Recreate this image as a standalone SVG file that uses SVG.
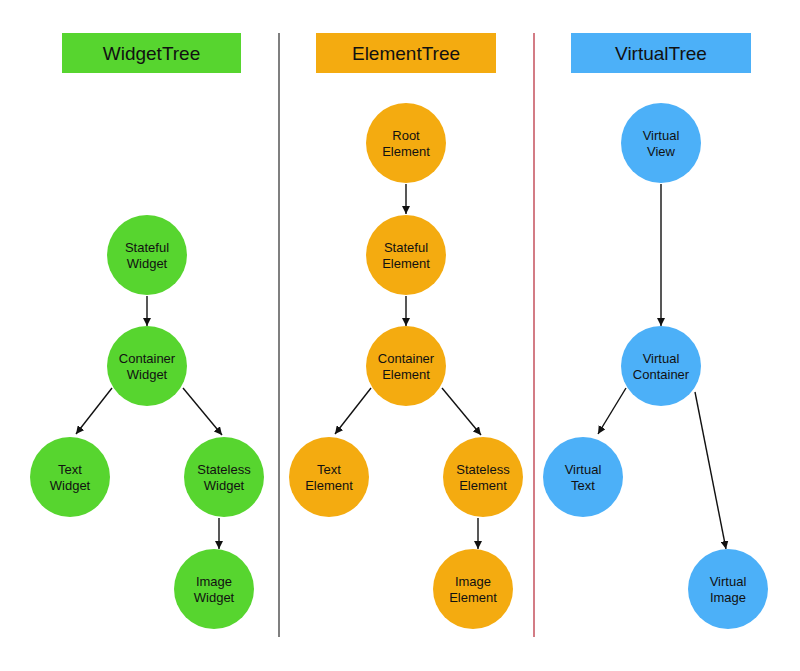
<svg xmlns="http://www.w3.org/2000/svg" width="800" height="671" viewBox="0 0 800 671">
<style>
.hdr{font-family:"Liberation Sans",Arial,sans-serif;font-size:19px;fill:#111;text-anchor:middle}
.lbl{font-family:"Liberation Sans",Arial,sans-serif;font-size:13px;fill:#111;text-anchor:middle}
.g{fill:#57d52f}
.o{fill:#f4ab10}
.b{fill:#4cb0f8}
.edge{stroke:#111;stroke-width:1.4;fill:none;marker-end:url(#ah)}
</style>
<defs>
<marker id="ah" viewBox="0 0 10 10" refX="10" refY="5" markerWidth="8" markerHeight="8" markerUnits="userSpaceOnUse" orient="auto">
<path d="M0,0 L10,5 L0,10 z" fill="#111"/>
</marker>
</defs>
<rect width="800" height="671" fill="#ffffff"/>
<g id="separators">
<line x1="279" y1="33" x2="279" y2="637" stroke="#555" stroke-width="1.5"/>
<line x1="534" y1="33" x2="534" y2="637" stroke="#c4505c" stroke-width="1.5"/>
</g>
<g id="hdr-widget"><rect x="62" y="33" width="179" height="40" class="g"/><text class="hdr" x="151.5" y="60">WidgetTree</text></g>
<g id="hdr-element"><rect x="316" y="33" width="180" height="40" class="o"/><text class="hdr" x="406" y="60">ElementTree</text></g>
<g id="hdr-virtual"><rect x="571" y="33" width="180" height="40" class="b"/><text class="hdr" x="661" y="60">VirtualTree</text></g>
<g id="connectors">
<line class="edge" x1="147" y1="296" x2="147" y2="326"/>
<line class="edge" x1="112" y1="388" x2="76" y2="434"/>
<line class="edge" x1="183" y1="388" x2="222" y2="435"/>
<line class="edge" x1="219" y1="518" x2="219" y2="549"/>
<line class="edge" x1="406" y1="184" x2="406" y2="214"/>
<line class="edge" x1="406" y1="296" x2="406" y2="326"/>
<line class="edge" x1="371" y1="388" x2="335" y2="434"/>
<line class="edge" x1="442" y1="388" x2="481" y2="435"/>
<line class="edge" x1="478" y1="518" x2="478" y2="549"/>
<line class="edge" x1="661" y1="184" x2="661" y2="326"/>
<line class="edge" x1="626" y1="388" x2="598" y2="434"/>
<line class="edge" x1="695" y1="392" x2="726" y2="549"/>
</g>
<g id="stateful-widget"><circle cx="147" cy="255" r="40" class="g"/><text class="lbl" x="147" y="252">Stateful</text><text class="lbl" x="147" y="268">Widget</text></g>
<g id="container-widget"><circle cx="147" cy="366" r="40" class="g"/><text class="lbl" x="147" y="363">Container</text><text class="lbl" x="147" y="379">Widget</text></g>
<g id="text-widget"><circle cx="70" cy="477" r="40" class="g"/><text class="lbl" x="70" y="474">Text</text><text class="lbl" x="70" y="490">Widget</text></g>
<g id="stateless-widget"><circle cx="224" cy="477" r="40" class="g"/><text class="lbl" x="224" y="474">Stateless</text><text class="lbl" x="224" y="490">Widget</text></g>
<g id="image-widget"><circle cx="214" cy="589" r="40" class="g"/><text class="lbl" x="214" y="586">Image</text><text class="lbl" x="214" y="602">Widget</text></g>
<g id="root-element"><circle cx="406" cy="143" r="40" class="o"/><text class="lbl" x="406" y="140">Root</text><text class="lbl" x="406" y="156">Element</text></g>
<g id="stateful-element"><circle cx="406" cy="255" r="40" class="o"/><text class="lbl" x="406" y="252">Stateful</text><text class="lbl" x="406" y="268">Element</text></g>
<g id="container-element"><circle cx="406" cy="366" r="40" class="o"/><text class="lbl" x="406" y="363">Container</text><text class="lbl" x="406" y="379">Element</text></g>
<g id="text-element"><circle cx="329" cy="477" r="40" class="o"/><text class="lbl" x="329" y="474">Text</text><text class="lbl" x="329" y="490">Element</text></g>
<g id="stateless-element"><circle cx="483" cy="477" r="40" class="o"/><text class="lbl" x="483" y="474">Stateless</text><text class="lbl" x="483" y="490">Element</text></g>
<g id="image-element"><circle cx="473" cy="589" r="40" class="o"/><text class="lbl" x="473" y="586">Image</text><text class="lbl" x="473" y="602">Element</text></g>
<g id="virtual-view"><circle cx="661" cy="143" r="40" class="b"/><text class="lbl" x="661" y="140">Virtual</text><text class="lbl" x="661" y="156">View</text></g>
<g id="virtual-container"><circle cx="661" cy="366" r="40" class="b"/><text class="lbl" x="661" y="363">Virtual</text><text class="lbl" x="661" y="379">Container</text></g>
<g id="virtual-text"><circle cx="583" cy="477" r="40" class="b"/><text class="lbl" x="583" y="474">Virtual</text><text class="lbl" x="583" y="490">Text</text></g>
<g id="virtual-image"><circle cx="728" cy="589" r="40" class="b"/><text class="lbl" x="728" y="586">Virtual</text><text class="lbl" x="728" y="602">Image</text></g>
</svg>
